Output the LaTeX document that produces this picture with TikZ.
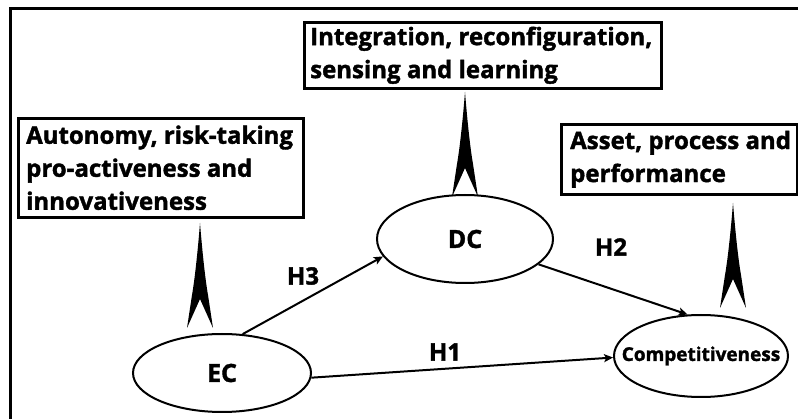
\documentclass[tikz,border=0pt]{standalone}
\usepackage{fontspec}
\setmainfont{Open Sans}[BoldFeatures={FakeBold=1.6}]
\usetikzlibrary{shapes.geometric,arrows.meta}

\tikzset{
  frameline/.style={line width=3pt, line cap=rect},
  textbox/.style={draw, line width=2.6pt, rectangle, inner sep=0pt, anchor=north west},
  boxtext/.style={font=\bfseries\fontsize{24}{33}\selectfont, align=left, inner sep=0pt, anchor=west},
  construct/.style={draw, line width=2pt, ellipse, inner sep=0pt},
  bigname/.style={font=\bfseries\fontsize{25}{30}\selectfont},
  smallname/.style={font=\bfseries\fontsize{19}{24}\selectfont},
  hyp/.style={font=\bfseries\fontsize{24}{28}\selectfont, inner sep=0pt},
  link/.style={line width=2pt, -{Stealth[length=9pt, width=8pt, inset=2pt]}},
  pics/spike/.style={code={
    \fill (0,0) .. controls (-2,25) and (-5,55) .. (-8,72)
          -- (-13,105) -- (0,76) -- (13,105) -- (8,72)
          .. controls (5,55) and (2,25) .. (0,0) -- cycle;
  }}
}

\begin{document}
\begin{tikzpicture}[x=1pt, y=-1pt]
  \useasboundingbox (0,0) rectangle (798,419);

  % open frame along the top and left edges
  \draw[frameline] (800,8.5) -- (10.5,8.5) -- (10.5,421);

  % descriptive boxes
  \node[textbox, minimum width=285pt, minimum height=99pt] (boxEO) at (17,117) {};
  \node[boxtext] (txtEO) at ([xshift=9pt]boxEO.west)
    {Autonomy, risk-taking\\pro-activeness and\\innovativeness};

  \node[textbox, minimum width=357pt, minimum height=66pt] (boxDC) at (303,21) {};
  \node[boxtext] (txtDC) at ([xshift=7pt]boxDC.west)
    {Integration, reconfiguration,\\sensing and learning};

  \node[textbox, minimum width=236pt, minimum height=70pt] (boxCP) at (560,123) {};
  \node[boxtext] (txtCP) at ([xshift=10pt]boxCP.west)
    {Asset, process and\\performance};

  % spikes pointing up to the boxes
  \pic at (200,223) {spike};
  \pic at (465,92) {spike};
  \pic at (733,203) {spike};

  % constructs
  \node[construct, minimum width=178pt, minimum height=78pt, bigname] (ec) at (222,373) {\makebox[0pt]{EC}};
  \node[construct, minimum width=176pt, minimum height=88pt, bigname] (dc) at (465,239) {\makebox[0pt]{DC}};
  \node[construct, minimum width=174pt, minimum height=82pt, smallname] (comp) at (701,356) {\makebox[0pt]{Competitiveness}};

  % hypothesised paths
  \draw[link] (ec.62) -- (dc.192);
  \draw[link] (dc.-19) -- (comp.108);
  \draw[link] (ec.-3) -- (comp.181);

  \node[hyp] (h3) at (303,276) {H3};
  \node[hyp] (h2) at (611,247) {H2};
  \node[hyp] (h1) at (445,352) {H1};
\end{tikzpicture}
\end{document}
